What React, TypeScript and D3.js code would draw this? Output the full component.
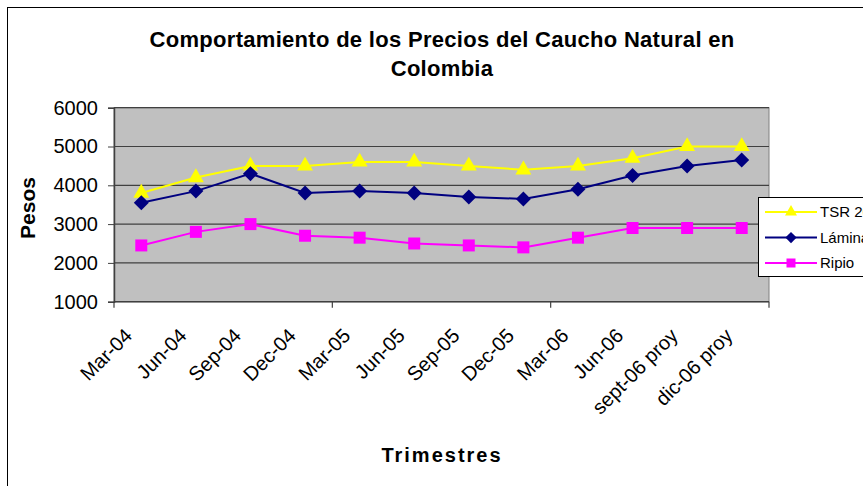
import React, { useEffect, useRef } from 'react';
import * as d3 from 'd3';

const trimestres = [
  'Mar-04', 'Jun-04', 'Sep-04', 'Dec-04', 'Mar-05', 'Jun-05',
  'Sep-05', 'Dec-05', 'Mar-06', 'Jun-06', 'sept-06 proy', 'dic-06 proy'
];
const tsr20 = [3800, 4200, 4500, 4500, 4600, 4600, 4500, 4400, 4500, 4700, 5000, 5000];
const lamina = [3550, 3850, 4300, 3800, 3850, 3800, 3700, 3650, 3900, 4250, 4500, 4650];
const ripio = [2450, 2800, 3000, 2700, 2650, 2500, 2450, 2400, 2650, 2900, 2900, 2900];
const yTicks = [1000, 2000, 3000, 4000, 5000, 6000];

const series = [
  { name: 'TSR 20', values: tsr20, color: '#FFFF00', marker: 'triangle' },
  { name: 'Lámina', values: lamina, color: '#000080', marker: 'diamond' },
  { name: 'Ripio', values: ripio, color: '#FF00FF', marker: 'square' }
];

const W = 863;
const H = 486;
const FONT = 'Arial, "Liberation Sans", sans-serif';

const markerPath = (type: string) => {
  if (type === 'triangle') return d3.symbol(d3.symbolTriangle, 110)()!;
  if (type === 'diamond') return 'M0,-7.5L7.5,0L0,7.5L-7.5,0Z';
  return 'M-6,-6H6V6H-6Z';
};

const App: React.FC = () => {
  const svgRef = useRef<SVGSVGElement>(null);

  useEffect(() => {
    if (!svgRef.current) return;
    const svg = d3.select(svgRef.current);
    svg.selectAll('*').remove();

    const left = 114, right = 769, top = 107.7, bottom = 301.7;

    const x = d3.scaleBand<string>().domain(trimestres).range([left, right]).padding(0);
    const y = d3.scaleLinear().domain([1000, 6000]).range([bottom, top]);
    const cx = (d: string) => (x(d) ?? 0) + x.bandwidth() / 2;

    // chart area
    svg.append('rect')
      .attr('x', 7.5).attr('y', 7.5)
      .attr('width', W + 20).attr('height', H + 20)
      .attr('fill', '#fff').attr('stroke', '#000').attr('stroke-width', 1);

    // title
    const title = svg.append('text')
      .attr('text-anchor', 'middle')
      .attr('font-family', FONT).attr('font-weight', 'bold').attr('font-size', 22)
      .attr('letter-spacing', 0.3);
    title.append('tspan').attr('x', 442).attr('y', 47)
      .text('Comportamiento de los Precios del Caucho Natural en');
    title.append('tspan').attr('x', 442).attr('y', 76).text('Colombia');

    // plot area
    svg.append('rect')
      .attr('x', left).attr('y', top)
      .attr('width', right - left).attr('height', bottom - top)
      .attr('fill', '#C0C0C0').attr('stroke', '#808080').attr('stroke-width', 1);

    // gridlines
    svg.append('g').selectAll('line')
      .data(yTicks.slice(1))
      .join('line')
      .attr('x1', left).attr('x2', right)
      .attr('y1', d => y(d)).attr('y2', d => y(d))
      .attr('stroke', '#404040').attr('stroke-width', 1.2);

    // y axis
    const yAxis = svg.append('g')
      .attr('transform', `translate(${left},0)`)
      .call(d3.axisLeft(y).tickValues(yTicks).tickSize(6).tickPadding(10).tickFormat(d3.format('d')));
    yAxis.select('.domain').attr('stroke', '#404040').attr('stroke-width', 1.5);
    yAxis.selectAll('.tick line').attr('stroke', '#404040');
    yAxis.selectAll('.tick text')
      .attr('font-family', FONT).attr('font-size', 20).attr('fill', '#000');

    // x axis line and ticks every 4 categories
    svg.append('line')
      .attr('x1', left).attr('x2', right)
      .attr('y1', bottom).attr('y2', bottom)
      .attr('stroke', '#404040').attr('stroke-width', 1.5);
    svg.append('g').selectAll('line')
      .data(d3.range(0, trimestres.length + 1, 4))
      .join('line')
      .attr('x1', i => left + i * x.bandwidth()).attr('x2', i => left + i * x.bandwidth())
      .attr('y1', bottom).attr('y2', bottom + 6)
      .attr('stroke', '#404040').attr('stroke-width', 1.2);

    // x labels
    svg.append('g').selectAll('text')
      .data(trimestres)
      .join('text')
      .attr('transform', d => `translate(${cx(d) - 8},${337}) rotate(-45)`)
      .attr('text-anchor', 'end')
      .attr('font-family', FONT).attr('font-size', 20)
      .text(d => d);

    // axis titles
    svg.append('text')
      .attr('transform', 'translate(35,208) rotate(-90)')
      .attr('text-anchor', 'middle')
      .attr('font-family', FONT).attr('font-weight', 'bold').attr('font-size', 21)
      .text('Pesos');
    svg.append('text')
      .attr('x', 442).attr('y', 462)
      .attr('text-anchor', 'middle')
      .attr('font-family', FONT).attr('font-weight', 'bold').attr('font-size', 20)
      .attr('letter-spacing', 2)
      .text('Trimestres');

    // series
    const line = d3.line<number>()
      .x((_, i) => cx(trimestres[i]))
      .y(d => y(d));

    series.forEach(s => {
      svg.append('path')
        .attr('d', line(s.values))
        .attr('fill', 'none')
        .attr('stroke', s.color)
        .attr('stroke-width', 2);
      svg.append('g').selectAll('path')
        .data(s.values)
        .join('path')
        .attr('d', markerPath(s.marker))
        .attr('transform', (d, i) => `translate(${cx(trimestres[i])},${y(d)})`)
        .attr('fill', s.color);
    });

    // legend
    const legend = svg.append('g');
    legend.append('rect')
      .attr('x', 758.5).attr('y', 197.5)
      .attr('width', 140).attr('height', 79)
      .attr('fill', '#fff').attr('stroke', '#000').attr('stroke-width', 1);
    series.forEach((s, i) => {
      const ly = 212 + i * 25.5;
      legend.append('line')
        .attr('x1', 765).attr('x2', 817)
        .attr('y1', ly).attr('y2', ly)
        .attr('stroke', s.color).attr('stroke-width', 2);
      legend.append('path')
        .attr('d', markerPath(s.marker))
        .attr('transform', `translate(791,${ly}) scale(0.75)`)
        .attr('fill', s.color);
      legend.append('text')
        .attr('x', 820).attr('y', ly)
        .attr('dy', '0.35em')
        .attr('font-family', FONT).attr('font-size', 15)
        .text(s.name);
    });
  }, []);

  return (
    <svg
      ref={svgRef}
      width={W}
      height={H}
      style={{ position: 'absolute', left: 0, top: 0, background: '#fff' }}
    />
  );
};

export default App;
